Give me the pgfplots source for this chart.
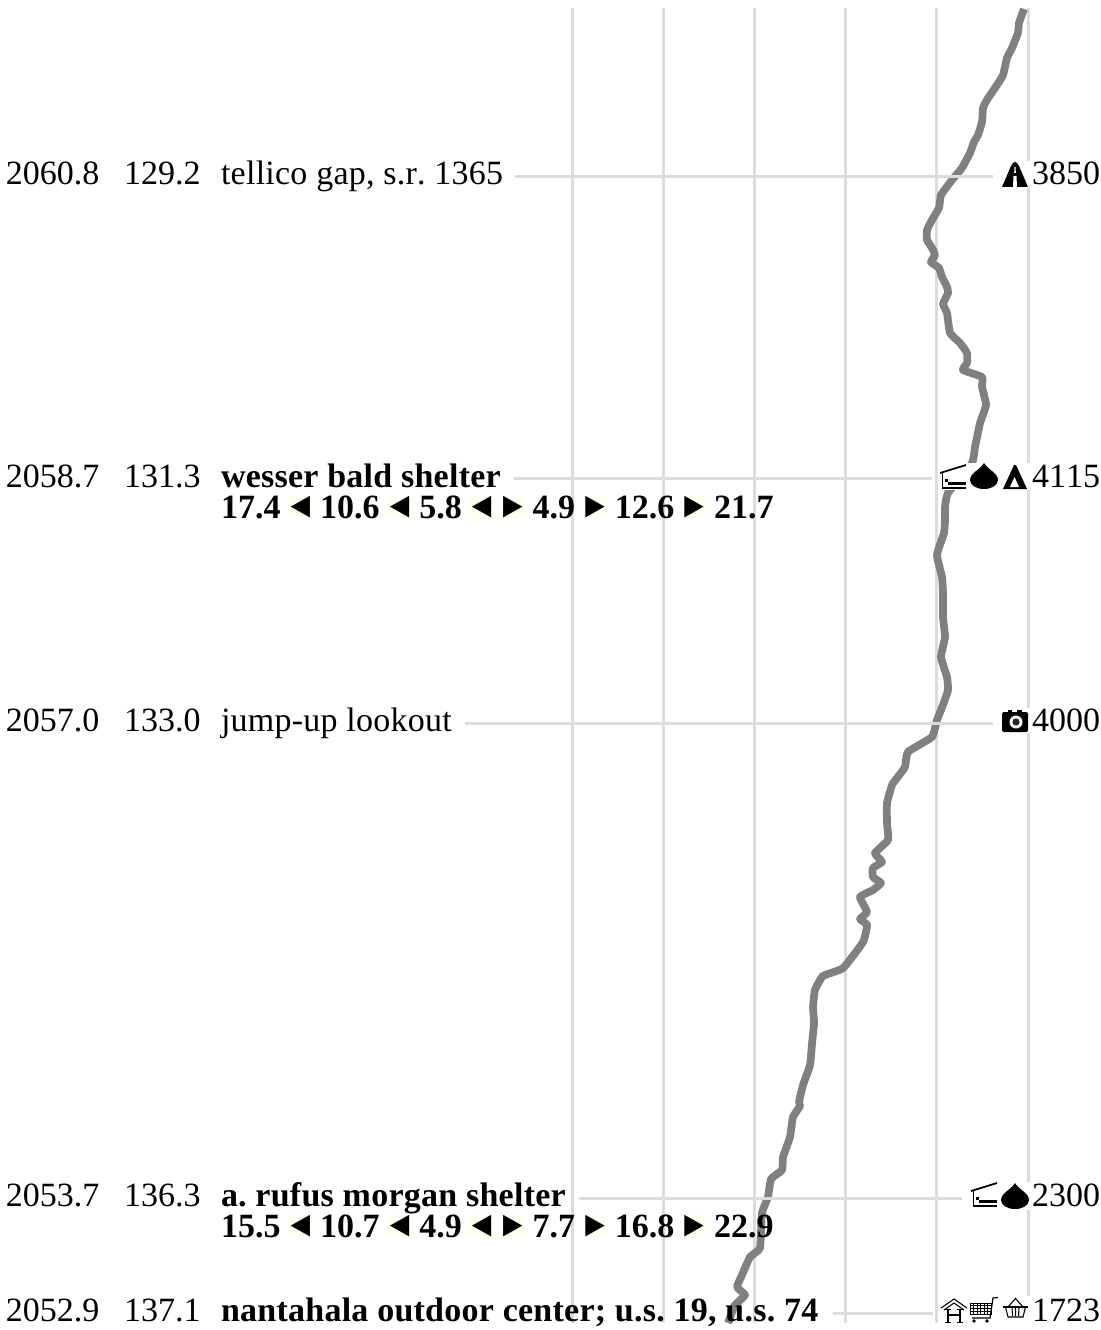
\documentclass[border=0pt]{standalone}
\usepackage{fontspec}
\setmainfont[Kerning=Off]{Liberation Serif}
\newfontfamily\djv{DejaVu Sans}
\usepackage{pgfplots}
\pgfplotsset{compat=1.18}
\definecolor{gridc}{HTML}{DCDCDC}
\definecolor{prof}{HTML}{808080}
\definecolor{ivoryb}{HTML}{FFFFF0}
\newcommand\tribox[1]{{\setlength\fboxsep{0pt}\colorbox{ivoryb}{\makebox[17pt][c]{\rule[-0.75pt]{0pt}{16.5pt}\raisebox{2.6pt}{\scalebox{1.0}[1.12]{\djv\fontsize{19}{19}\selectfont #1}}}}}}
\newcommand\tl{\tribox{◀}}
\newcommand\tr{\tribox{▶}}
\newcommand\nm[1]{{\addfontfeature{LetterSpace=0.75}#1}}
% icons, drawn in the pixel scope; #1,#2 = top left corner
\newcommand\road[2]{\begin{scope}[shift={(#1,#2)}]
\fill[black] (0,25)--(9,4)--(11,1)--(13,0)--(15,1)--(17,4)--(26,25)--cycle;
\fill[white] (11,25)--(11.5,14)--(14.5,14)--(15,25)--cycle;
\fill[white] (12.4,5)--(13.6,5)--(13.8,11)--(12.2,11)--cycle;
\end{scope}}
\newcommand\shelter[2]{\begin{scope}[shift={(#1,#2)}]
\draw[black,line width=1.3pt] (0,8)--(26,0);
\draw[black,line width=1.2pt] (2.5,8)--(2.5,23)--(26,23);
\fill[black] (5,14) rectangle (8,17);
\fill[black] (8,17) rectangle (26,20);
\end{scope}}
\newcommand\drop[2]{\begin{scope}[shift={(#1,#2)}]
\fill[black] (14,0) .. controls (11,6) and (0,10) .. (0,17) .. controls (0,22) and (6,26) .. (14,26) .. controls (22,26) and (28,22) .. (28,17) .. controls (28,10) and (17,6) .. (14,0) -- cycle;
\end{scope}}
\newcommand\tent[2]{\begin{scope}[shift={(#1,#2)}]
\fill[black] (11,0)--(13,0)--(24,24)--(0,24)--cycle;
\fill[white] (11.5,12)--(16,22)--(7,22)--cycle;
\end{scope}}
\newcommand\camera[2]{\begin{scope}[shift={(#1,#2)}]
\fill[black,rounded corners=1.5pt] (0,3) rectangle (26,23);
\fill[black] (6,0.5) rectangle (10,3);
\fill[black] (15,0.5) rectangle (20,3);
\fill[white] (14,13) circle[radius=6.5];
\fill[black!85] (14,13) circle[radius=3.6];
\end{scope}}
\newcommand\house[2]{\begin{scope}[shift={(#1,#2)}]
\draw[black,line width=.8pt] (0,10)--(13,1)--(26,10);
\draw[black,line width=.8pt] (3,12)--(13,5)--(23,12);
\draw[black,line width=1.3pt] (7,11)--(7,24);
\draw[black,line width=1.3pt] (19,11)--(19,24);
\draw[black,line width=.8pt] (7,17)--(19,17);
\draw[black,line width=.6pt] (4,24)--(10,24) (16,24)--(22,24) (4,11)--(10,11) (16,11)--(22,11);
\end{scope}}
\newcommand\cart[2]{\begin{scope}[shift={(#1,#2)}]
\draw[black,line width=.9pt] (28,0.5)--(23,1)--(20,21)--(2,21);
\draw[black,line width=.6pt] (0,6) rectangle (21,17);
\foreach \x in {3.5,7,10.5,14,17.5} {\draw[black,line width=.45pt] (\x,6)--(\x,17);}
\foreach \y in {8.75,11.5,14.25} {\draw[black,line width=.45pt] (0,\y)--(21,\y);}
\fill[black] (4,24) circle[radius=1.8];
\fill[black] (17,24) circle[radius=1.8];
\end{scope}}
\newcommand\basket[2]{\begin{scope}[shift={(#1,#2)}]
\draw[black,line width=.8pt] (0,9)--(25,9);
\draw[black,line width=.8pt] (2.5,9)--(5,19)--(20,19)--(22.5,9);
\draw[black,line width=.8pt] (5,9)--(12.5,0.5)--(20,9);
\draw[black,line width=.8pt] (9,10)--(9.5,18) (12.5,10)--(12.5,18) (16,10)--(15.5,18);
\end{scope}}
\begin{document}
\frenchspacing
\begin{tikzpicture}
\useasboundingbox (0,0) rectangle (825pt,-997.5pt);
\begin{axis}[
  at={(429pt,-992.25pt)}, anchor=south west,
  scale only axis, width=342pt, height=986.25pt,
  xmin=0, xmax=5000, ymin=2052.831, ymax=2061.975,
  clip=false,
  axis line style={draw=none},
  major tick length=0pt,
  xtick={0,1000,2000,3000,4000,5000}, xticklabels={},
  ytick=\empty,
  xmajorgrids,
  grid style={gridc, line width=2.25pt},
]
\addplot[prof, line width=5.8pt, line join=round, no markers, smooth, tension=0.25] coordinates {
(4956,2061.968)(4901,2061.871)(4890,2061.802)(4825,2061.697)(4770,2061.628)
(4726,2061.509)(4660,2061.440)(4550,2061.336)(4507,2061.280)(4496,2061.183)
(4452,2061.092)(4408,2061.044)(4364,2060.967)(4276,2060.863)(4167,2060.779)
(4046,2060.675)(4024,2060.585)(3947,2060.501)(3893,2060.432)(3893,2060.362)
(3947,2060.306)(3980,2060.258)(3936,2060.209)(4024,2060.167)(4057,2060.105)
(4112,2060.035)(4123,2059.993)(4068,2059.917)(4112,2059.854)(4145,2059.715)
(4254,2059.646)(4331,2059.576)(4331,2059.507)(4287,2059.458)(4496,2059.409)
(4496,2059.340)(4540,2059.215)(4474,2059.089)(4419,2058.923)(4386,2058.811)
(4123,2058.603)(4090,2058.505)(4090,2058.415)(4079,2058.325)(4002,2058.172)
(4057,2058.019)(4068,2057.907)(4068,2057.740)(4090,2057.601)(4046,2057.462)
(4112,2057.323)(4123,2057.233)(4068,2057.129)(4002,2057.024)(3947,2056.906)
(3684,2056.802)(3651,2056.697)(3564,2056.621)(3509,2056.572)(3454,2056.447)
(3454,2056.308)(3465,2056.190)(3322,2056.099)(3399,2056.037)(3300,2055.995)
(3300,2055.932)(3388,2055.891)(3300,2055.842)(3158,2055.793)(3235,2055.689)
(3158,2055.640)(3235,2055.599)(3191,2055.480)(2972,2055.299)(2752,2055.244)
(2664,2055.147)(2643,2055.028)(2654,2054.917)(2632,2054.778)(2610,2054.625)
(2533,2054.486)(2489,2054.368)(2500,2054.340)(2423,2054.263)(2390,2054.124)
(2314,2053.985)(2303,2053.895)(2182,2053.832)(2149,2053.707)(2083,2053.596)
(2061,2053.353)(1952,2053.290)(1864,2053.165)(1809,2053.081)(1897,2053.026)
(1787,2052.956)(1754,2052.907)(1711,2052.831)};
\addplot[gridc, line width=2.25pt, no markers] coordinates {(-625,2060.8)(4616,2060.8)};
\addplot[gridc, line width=2.25pt, no markers] coordinates {(-636,2058.7)(3947,2058.7)};
\addplot[gridc, line width=2.25pt, no markers] coordinates {(-1173,2057.0)(4616,2057.0)};
\addplot[gridc, line width=2.25pt, no markers] coordinates {(77,2053.7)(4276,2053.7)};
\addplot[gridc, line width=2.25pt, no markers] coordinates {(2862,2052.9)(3958,2052.9)};
\end{axis}
\begin{scope}[x=.75pt,y=-.75pt,every node/.style={inner sep=0pt,outer sep=0pt,font=\fontsize{25.5}{25.5}\selectfont}]
% white plates under the icons
\fill[white] (1001,161) rectangle (1029.6,188);
\fill[white] (940,463) rectangle (1029.6,490);
\fill[white] (1001,708) rectangle (1029.6,733);
\fill[white] (970,1182) rectangle (1029.6,1210);
\fill[white] (940,1296) rectangle (1029.6,1324);
\road{1002}{162}
\shelter{940}{465}\drop{970}{463}\tent{1003}{465}
\camera{1002}{709}
\shelter{971}{1183}\drop{1001}{1183}
\house{941}{1298}\cart{970}{1297}\basket{1003}{1298}
% row 1
\node[anchor=base west] at (6,185) {2060.8};
\node[anchor=base west] at (124,185) {129.2};
\node[anchor=base west] at (221,185) {\nm{tellico gap, s.r. 1365}};
\node[anchor=base east] at (1100,185) {3850};
% row 2
\node[anchor=base west] at (6,487) {2058.7};
\node[anchor=base west] at (124,487) {131.3};
\node[anchor=base west] at (221,487) {\textbf{\nm{wesser bald shelter}}};
\node[anchor=base west] at (221,518) {\textbf{17.4 \tl{} 10.6 \tl{} 5.8 \tl{} \tr{} 4.9 \tr{} 12.6 \tr{} 21.7}};
\node[anchor=base east] at (1100,487) {4115};
% row 3
\node[anchor=base west] at (6,731) {2057.0};
\node[anchor=base west] at (124,731) {133.0};
\node[anchor=base west] at (221,731) {\nm{jump-up lookout}};
\node[anchor=base east] at (1100,731) {4000};
% row 4
\node[anchor=base west] at (6,1206) {2053.7};
\node[anchor=base west] at (124,1206) {136.3};
\node[anchor=base west] at (221,1206) {\textbf{\nm{a. rufus morgan shelter}}};
\node[anchor=base west] at (221,1237) {\textbf{15.5 \tl{} 10.7 \tl{} 4.9 \tl{} \tr{} 7.7 \tr{} 16.8 \tr{} 22.9}};
\node[anchor=base east] at (1100,1206) {2300};
% row 5
\node[anchor=base west] at (6,1321) {2052.9};
\node[anchor=base west] at (124,1321) {137.1};
\node[anchor=base west] at (221,1321) {\textbf{\nm{nantahala outdoor center; u.s. 19, u.s. 74}}};
\node[anchor=base east] at (1100,1321) {1723};
\end{scope}
\end{tikzpicture}
\end{document}
